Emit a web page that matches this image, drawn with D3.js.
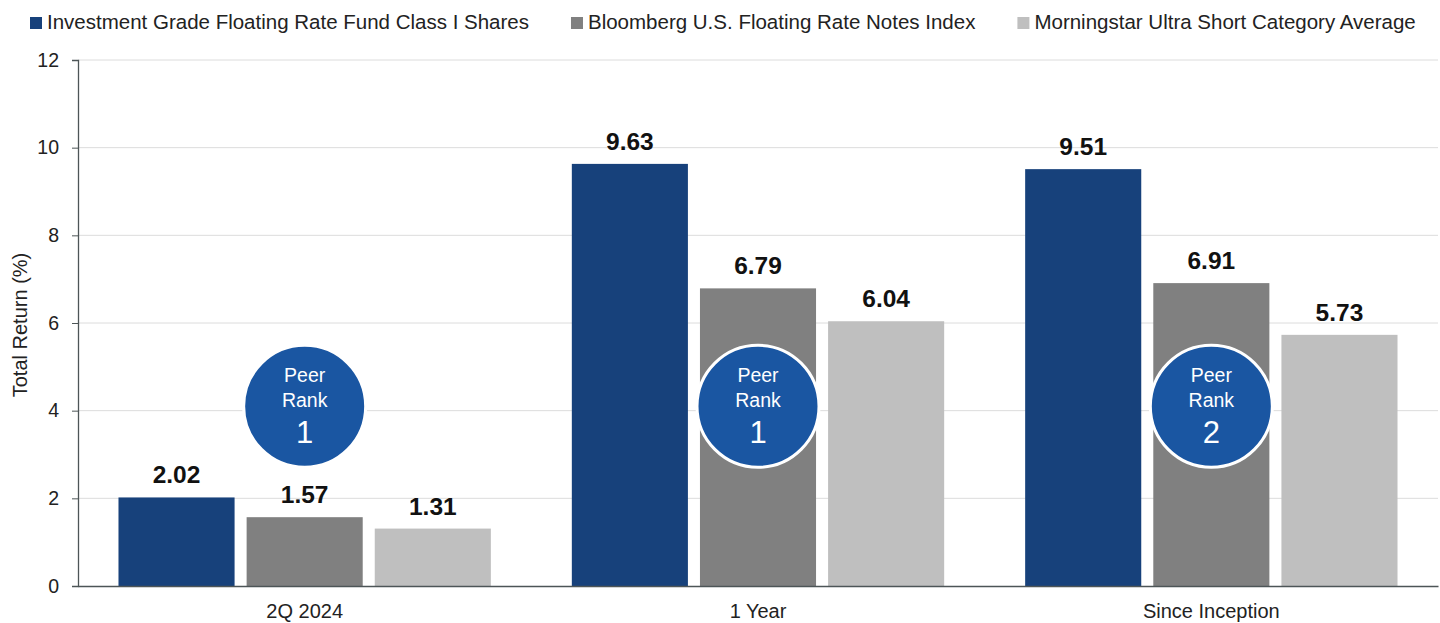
<!DOCTYPE html>
<html>
<head>
<meta charset="utf-8">
<script src="https://cdn.jsdelivr.net/npm/d3@7"></script>
<style>
  body { margin: 0; background: #fff; }
  text { font-family: "Liberation Sans", Arial, sans-serif; }
</style>
</head>
<body>
<div id="chart"></div>
<script>
// data
var periods = ["2Q 2024", "1 Year", "Since Inception"];
var seriesNames = ["Investment Grade Floating Rate Fund Class I Shares",
                   "Bloomberg U.S. Floating Rate Notes Index",
                   "Morningstar Ultra Short Category Average"];
var fundValues = [2.02, 9.63, 9.51];
var indexValues = [1.57, 6.79, 6.91];
var categoryValues = [1.31, 6.04, 5.73];
var peerRanks = ["1", "1", "2"];
var yTicks = [0, 2, 4, 6, 8, 10, 12];

var colors = ["#17417b", "#808080", "#bfbfbf"];

var W = 1440, H = 623;
var margin = {top: 60, right: 2, bottom: 37, left: 78},
    width = W - margin.left - margin.right,
    height = H - margin.top - margin.bottom;

var svg = d3.select("#chart")
  .append("svg")
    .attr("width", W)
    .attr("height", H);

var g = svg.append("g")
  .attr("transform", "translate(" + margin.left + "," + margin.top + ")");

var x0 = d3.scaleBand()
  .domain(periods)
  .range([0, width])
  .padding(0);

var x1 = d3.scaleBand()
  .domain([0, 1, 2])
  .range([0, x0.bandwidth()])
  .paddingInner(0.094)
  .paddingOuter(0.316);

var y = d3.scaleLinear()
  .domain([0, 12])
  .range([height, 0]);

// gridlines
g.append("g")
  .selectAll("line")
  .data(yTicks.filter(function(d) { return d > 0; }))
  .enter()
  .append("line")
    .attr("x1", 0)
    .attr("x2", width)
    .attr("y1", function(d) { return y(d); })
    .attr("y2", function(d) { return y(d); })
    .style("stroke", "#dcdcdc")
    .style("stroke-width", 1);

// y axis
var yAxis = g.append("g")
  .call(d3.axisLeft(y).tickValues(yTicks).tickSize(6).tickSizeOuter(6).tickPadding(13));
yAxis.select(".domain").style("stroke", "#4d5557").style("stroke-width", 1.3);
yAxis.selectAll(".tick line").style("stroke", "#4d5557");
yAxis.selectAll("text")
  .style("font-size", "19.5px")
  .style("fill", "#222");

svg.append("text")
  .attr("transform", "rotate(-90)")
  .attr("x", -325)
  .attr("y", 27)
  .style("text-anchor", "middle")
  .style("font-size", "20px")
  .style("fill", "#222")
  .text("Total Return (%)");

// bars
var rows = periods.map(function(p, i) {
  return {period: p, values: [fundValues[i], indexValues[i], categoryValues[i]], rank: peerRanks[i]};
});

var groups = g.selectAll(".grp")
  .data(rows)
  .enter()
  .append("g")
    .attr("class", "grp")
    .attr("transform", function(d) { return "translate(" + x0(d.period) + ",0)"; });

groups.selectAll("rect")
  .data(function(d) { return d.values; })
  .enter()
  .append("rect")
    .attr("x", function(d, i) { return x1(i); })
    .attr("y", function(d) { return y(d); })
    .attr("width", x1.bandwidth())
    .attr("height", function(d) { return height - y(d); })
    .style("fill", function(d, i) { return colors[i]; });

groups.selectAll(".val")
  .data(function(d) { return d.values; })
  .enter()
  .append("text")
    .attr("class", "val")
    .attr("x", function(d, i) { return x1(i) + x1.bandwidth() / 2; })
    .attr("y", function(d) { return y(d) - 14; })
    .style("text-anchor", "middle")
    .style("font-size", "24.5px")
    .style("font-weight", "bold")
    .style("fill", "#111")
    .text(function(d) { return d.toFixed(2); });

// x axis baseline
var xAxis = g.append("g")
  .attr("transform", "translate(0," + height + ")")
  .call(d3.axisBottom(x0).tickSize(0).tickPadding(18));
xAxis.select(".domain").style("stroke", "#4d5557").style("stroke-width", 1.3);
xAxis.selectAll("text")
  .style("font-size", "20px")
  .style("fill", "#222");

// peer rank badges
var badge = groups.append("g")
  .attr("transform", function(d) { return "translate(" + (x0.bandwidth() / 2) + "," + y(4.1) + ")"; });
badge.append("circle")
  .attr("r", 61)
  .style("fill", "#1a56a2")
  .style("stroke", "#fff")
  .style("stroke-width", 3);
badge.append("text")
  .attr("y", -24)
  .style("text-anchor", "middle")
  .style("font-size", "19.5px")
  .style("fill", "#fff")
  .text("Peer");
badge.append("text")
  .attr("y", 1)
  .style("text-anchor", "middle")
  .style("font-size", "19.5px")
  .style("fill", "#fff")
  .text("Rank");
badge.append("text")
  .attr("y", 37)
  .style("text-anchor", "middle")
  .style("font-size", "31px")
  .style("font-weight", "500")
  .style("fill", "#fff")
  .text(function(d) { return d.rank; });

// legend
var legend = svg.append("g").attr("transform", "translate(30,0)");
var lx = 0;
seriesNames.forEach(function(name, i) {
  var item = legend.append("g").attr("transform", "translate(" + lx + ",0)");
  item.append("rect")
    .attr("y", 17)
    .attr("width", 12)
    .attr("height", 12)
    .style("fill", colors[i]);
  var t = item.append("text")
    .attr("x", 17)
    .attr("y", 29)
    .style("font-size", "20.5px")
    .style("fill", "#222")
    .text(name);
  lx += 17 + t.node().getComputedTextLength() + 42;
});
</script>
</body>
</html>
